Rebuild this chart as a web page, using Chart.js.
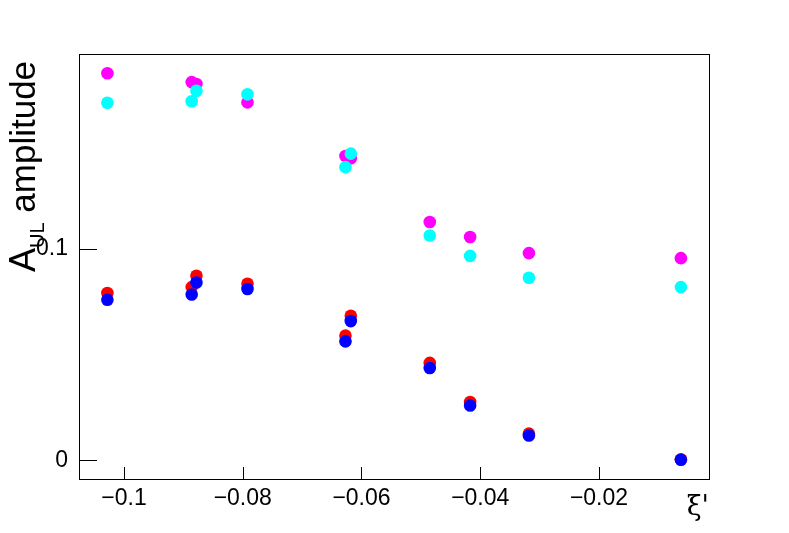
<!DOCTYPE html>
<html>
<head>
<meta charset="utf-8">
<title>A_UL amplitude vs xi'</title>
<script src="https://cdn.jsdelivr.net/npm/chart.js"></script>
<style>
  html, body { margin: 0; padding: 0; background: #fff; }
  canvas { display: block; }
</style>
</head>
<body>
<canvas id="chart" width="789" height="533"></canvas>
<script>
// xi' positions shared by every series
const xiValues = [-0.1028, -0.0886, -0.0878, -0.0792, -0.0627, -0.0618, -0.0485, -0.0417, -0.0318, -0.0062];

// A_UL amplitude
const magentaValues = [0.1833, 0.1791, 0.1782, 0.1695, 0.1441, 0.1430, 0.1128, 0.1057, 0.0981, 0.0957];
const cyanValues    = [0.1693, 0.1700, 0.1750, 0.1733, 0.1388, 0.1452, 0.1064, 0.0968, 0.0864, 0.0820];
const redValues     = [0.0792, 0.0820, 0.0874, 0.0836, 0.0590, 0.0684, 0.0461, 0.0276, 0.0126, 0.0004];
const blueValues    = [0.0760, 0.0785, 0.0842, 0.0811, 0.0563, 0.0659, 0.0437, 0.0259, 0.0117, 0.0002];

const xTicks = [-0.1, -0.08, -0.06, -0.04, -0.02];
const yTicks = [0, 0.1];

const toPoints = (vals) => vals.map((v, i) => ({ x: xiValues[i], y: v }));
const fmt = (v) => String(Math.round(v * 1000) / 1000).replace('-', '\u2212');

const series = (values, color) => ({
  data: toPoints(values),
  backgroundColor: color,
  borderWidth: 0,
  pointRadius: 6.3,
  pointHoverRadius: 6.3,
});

// frame, inward ticks and the two axis titles (ROOT style)
const rootFrame = {
  id: 'rootFrame',
  afterDraw(chart) {
    const { ctx, chartArea: a, scales } = chart;
    ctx.save();
    ctx.strokeStyle = '#000';
    ctx.lineWidth = 1;
    ctx.strokeRect(Math.round(a.left) + 0.5, Math.round(a.top) + 0.5,
      Math.round(a.right - a.left) - 1, Math.round(a.bottom - a.top));
    ctx.beginPath();
    xTicks.forEach(v => {
      const px = Math.round(scales.x.getPixelForValue(v)) + 0.5;
      ctx.moveTo(px, a.bottom);
      ctx.lineTo(px, a.bottom - 12);
    });
    yTicks.forEach(v => {
      const py = Math.round(scales.y.getPixelForValue(v)) + 0.5;
      ctx.moveTo(a.left, py);
      ctx.lineTo(a.left + 18, py);
    });
    ctx.stroke();

    // y title: A_UL amplitude
    ctx.fillStyle = '#000';
    ctx.translate(35, 272);
    ctx.rotate(-Math.PI / 2);
    ctx.textBaseline = 'alphabetic';
    ctx.font = '36px "Liberation Sans"';
    ctx.fillText('A', 0, 0);
    let w = ctx.measureText('A').width;
    ctx.font = '20px "Liberation Sans"';
    ctx.fillText('UL', w, 9);
    w += ctx.measureText('UL').width;
    ctx.font = '35px "Liberation Sans"';
    ctx.fillText(' amplitude', w, 0);
    ctx.restore();

    // x title: xi'
    ctx.save();
    ctx.fillStyle = '#000';
    ctx.font = '27px "DejaVu Serif"';
    ctx.textAlign = 'right';
    ctx.fillText("\u03BE'", 709, 515);
    ctx.restore();
  }
};

new Chart(document.getElementById('chart'), {
  type: 'scatter',
  data: {
    // first dataset is painted on top
    datasets: [
      series(blueValues, '#0000ff'),
      series(redValues, '#ff0000'),
      series(cyanValues, '#00ffff'),
      series(magentaValues, '#ff00ff'),
    ],
  },
  options: {
    responsive: false,
    animation: false,
    events: [],
    layout: { padding: { left: 0, right: 79, top: 54, bottom: 0 } },
    plugins: { legend: { display: false }, tooltip: { enabled: false } },
    scales: {
      x: {
        type: 'linear',
        min: -0.10758,
        max: -0.0013,
        grid: { display: false },
        border: { display: false },
        ticks: {
          color: '#000',
          padding: -2,
          maxRotation: 0,
          font: { family: 'Liberation Sans', size: 23 },
          callback: (v) => fmt(v),
        },
        afterBuildTicks: (s) => { s.ticks = xTicks.map(v => ({ value: v })); },
        afterFit: (s) => { s.height = 54; },
      },
      y: {
        type: 'linear',
        min: -0.0089,
        max: 0.1924,
        grid: { display: false },
        border: { display: false },
        ticks: {
          color: '#000',
          padding: 3,
          font: { family: 'Liberation Sans', size: 23 },
          callback: (v) => fmt(v),
        },
        afterBuildTicks: (s) => { s.ticks = yTicks.map(v => ({ value: v })); },
        afterFit: (s) => { s.width = 79; },
      },
    },
  },
  plugins: [rootFrame],
});
</script>
</body>
</html>
